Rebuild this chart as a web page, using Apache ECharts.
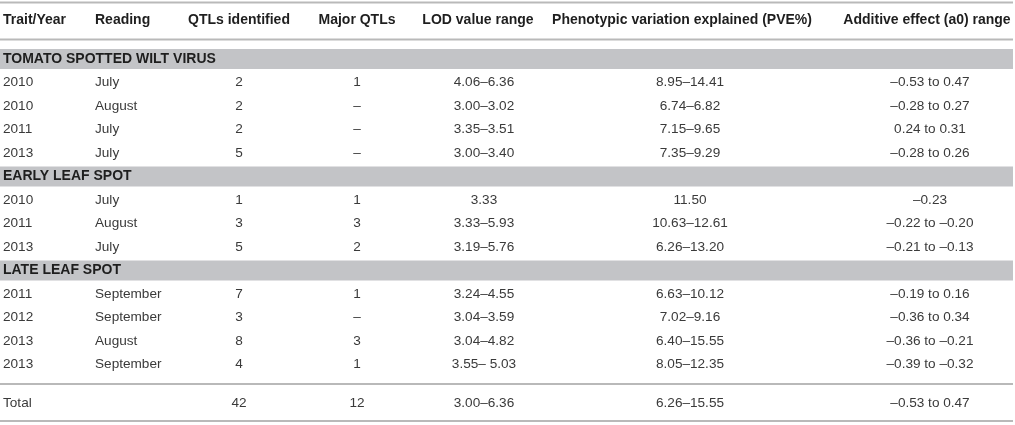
<!DOCTYPE html>
<html>
<head>
<meta charset="utf-8">
<script src="https://cdn.jsdelivr.net/npm/echarts@6/dist/echarts.min.js"></script>
<style>
    html, body { margin: 0; padding: 0; background: #fff; }
</style>
</head>
<body>
<div id="main" style="width: 1015px;height:425px;"></div>
<script type="text/javascript">

    // table contents
    var headers = ['Trait/Year', 'Reading', 'QTLs identified', 'Major QTLs', 'LOD value range',
        'Phenotypic variation explained (PVE%)', 'Additive effect (a0) range'];
    var sections = ['TOMATO SPOTTED WILT VIRUS', 'EARLY LEAF SPOT', 'LATE LEAF SPOT'];
    var rowSection = [0, 0, 0, 0, 1, 1, 1, 2, 2, 2, 2];
    var years = ['2010', '2010', '2011', '2013', '2010', '2011', '2013', '2011', '2012', '2013', '2013'];
    var readings = ['July', 'August', 'July', 'July', 'July', 'August', 'July',
        'September', 'September', 'August', 'September'];
    var qtls = ['2', '2', '2', '5', '1', '3', '5', '7', '3', '8', '4'];
    var majorQtls = ['1', '–', '–', '–', '1', '3', '2', '1', '–', '3', '1'];
    var lodRange = ['4.06–6.36', '3.00–3.02', '3.35–3.51', '3.00–3.40', '3.33', '3.33–5.93', '3.19–5.76',
        '3.24–4.55', '3.04–3.59', '3.04–4.82', '3.55– 5.03'];
    var pveRange = ['8.95–14.41', '6.74–6.82', '7.15–9.65', '7.35–9.29', '11.50', '10.63–12.61', '6.26–13.20',
        '6.63–10.12', '7.02–9.16', '6.40–15.55', '8.05–12.35'];
    var additive = ['–0.53 to 0.47', '–0.28 to 0.27', '0.24 to 0.31', '–0.28 to 0.26', '–0.23',
        '–0.22 to –0.20', '–0.21 to –0.13', '–0.19 to 0.16', '–0.36 to 0.34', '–0.36 to –0.21', '–0.39 to –0.32'];
    var totalRow = ['Total', '', '42', '12', '3.00–6.36', '6.26–15.55', '–0.53 to 0.47'];

    // layout (pixels, same as axis units)
    var W = 1015, H = 425;
    var colX = [3, 95, 239, 357, 484, 690, 930];
    var headX = [3, 95, 239, 357, 478, 682, 927];
    var colAlign = ['left', 'left', 'center', 'center', 'center', 'center', 'center'];
    var headerY = 20, firstSlotY = 59, slotH = 23.5, bandH = 20, totalY = 403;
    var rules = [2.5, 39.5, 384, 421];
    var FONT = '"Liberation Sans", Arial, sans-serif';

    var cells = [], bands = [];
    headers.forEach(function (h, i) {
        cells.push({x: headX[i], y: headerY, text: h, align: colAlign[i], kind: 'head'});
    });
    var slot = 0, prev = -1;
    years.forEach(function (yr, r) {
        var y;
        if (rowSection[r] !== prev) {
            prev = rowSection[r];
            y = firstSlotY + slot * slotH;
            bands.push([0, y]);
            cells.push({x: 3, y: y, text: sections[prev], align: 'left', kind: 'band'});
            slot++;
        }
        y = firstSlotY + slot * slotH;
        [yr, readings[r], qtls[r], majorQtls[r], lodRange[r], pveRange[r], additive[r]].forEach(function (t, c) {
            cells.push({x: colX[c], y: y, text: t, align: colAlign[c], kind: 'body'});
        });
        slot++;
    });
    totalRow.forEach(function (t, c) {
        cells.push({x: colX[c], y: totalY, text: t, align: colAlign[c], kind: 'body'});
    });

    var myChart = echarts.init(document.getElementById('main'));

    var option = {
        animation: false,
        backgroundColor: '#fff',
        grid: {left: 0, right: 0, top: 0, bottom: 0},
        xAxis: {type: 'value', min: 0, max: W, show: false},
        yAxis: {type: 'value', min: 0, max: H, inverse: true, show: false},
        series: [{
            // grey section bands
            type: 'custom',
            data: bands,
            renderItem: function (params, api) {
                var p0 = api.coord([0, api.value(1) - bandH / 2]);
                var p1 = api.coord([W - 2, api.value(1) + bandH / 2]);
                return {
                    type: 'rect',
                    shape: {x: p0[0], y: p0[1], width: p1[0] - p0[0], height: p1[1] - p0[1]},
                    style: {fill: '#c3c4c7'}
                };
            }
        }, {
            // horizontal rules
            type: 'custom',
            data: rules.map(function (y) { return [0, y]; }),
            renderItem: function (params, api) {
                var p0 = api.coord([0, api.value(1)]);
                var p1 = api.coord([W - 2, api.value(1)]);
                return {
                    type: 'line',
                    shape: {x1: p0[0], y1: p0[1], x2: p1[0], y2: p1[1]},
                    style: {stroke: '#b9b9b9', lineWidth: 2}
                };
            }
        }, {
            // cell texts
            type: 'custom',
            data: cells.map(function (c) { return [c.x, c.y]; }),
            renderItem: function (params, api) {
                var c = cells[params.dataIndex];
                var p = api.coord([api.value(0), api.value(1)]);
                var bold = c.kind !== 'body';
                return {
                    type: 'text',
                    style: {
                        x: p[0], y: p[1],
                        text: c.text,
                        align: c.align,
                        verticalAlign: 'middle',
                        fill: c.kind === 'body' ? '#3a3a3a' : '#1e1e1e',
                        font: (bold ? 'bold 14px ' : '13.6px ') + FONT
                    }
                };
            }
        }]
    };

    myChart.setOption(option);

</script>
</body>
</html>
